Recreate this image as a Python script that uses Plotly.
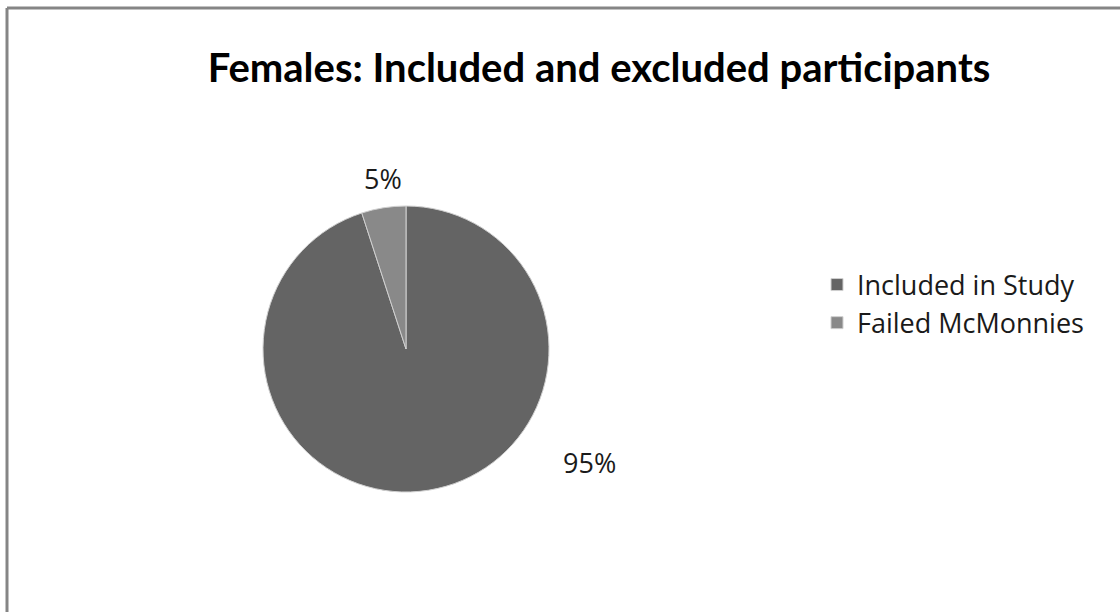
import plotly.graph_objects as go

# ---- data ----
categories = ["Included in Study", "Failed McMonnies"]
values = [95, 5]
title_text = "Females: Included and excluded participants"

# ---- style ----
colors = ["#646464", "#898989"]
W, H = 1120, 612
cx, cy, r = 406, 349, 143  # pie centre / radius in pixels (from top-left)
# label anchor positions (pixels from top-left), per category
label_px = {"Included in Study": (589, 462), "Failed McMonnies": (383, 178)}

total = sum(values)
pct_text = [f"{v / total * 100:.0f}%" for v in values]

fig = go.Figure()
fig.add_trace(go.Pie(
    labels=categories,
    values=values,
    sort=False,
    direction="clockwise",
    rotation=0,
    textinfo="none",
    hoverinfo="label+percent",
    marker=dict(colors=colors, line=dict(color="#d0d0d0", width=1)),
    domain=dict(x=[(cx - r) / W, (cx + r) / W],
                y=[(H - cy - r) / H, (H - cy + r) / H]),
    showlegend=True,
))

annotations = []
for cat, t in zip(categories, pct_text):
    px, py = label_px[cat]
    annotations.append(dict(
        x=px / W, y=1 - py / H, xref="paper", yref="paper",
        text=t, showarrow=False, xanchor="center", yanchor="middle",
        font=dict(family="Open Sans", size=27, color="#1a1a1a"),
    ))

fig.update_layout(
    width=W, height=H,
    margin=dict(l=0, r=0, t=0, b=0),
    paper_bgcolor="white",
    plot_bgcolor="white",
    title=dict(text=f"<b>{title_text}</b>", x=599 / W, xanchor="center",
               y=1 - 68 / H, yanchor="middle",
               font=dict(family="Lato", size=40, color="#000000")),
    legend=dict(x=817 / W, y=1 - 304 / H, xanchor="left", yanchor="middle",
                font=dict(family="Open Sans", size=27, color="#1a1a1a"),
                bgcolor="rgba(0,0,0,0)", itemwidth=30),
    annotations=annotations,
    shapes=[
        dict(type="line", xref="paper", yref="paper", x0=7 / W, x1=1, y0=1 - 8 / H, y1=1 - 8 / H,
             line=dict(color="#858585", width=3)),
        dict(type="line", xref="paper", yref="paper", x0=7 / W, x1=7 / W, y0=0, y1=1 - 8 / H,
             line=dict(color="#858585", width=3)),
    ],
)

fig.write_html("out.html",
               config={"displayModeBar": False},
               post_script="document.body.style.margin='0';document.body.style.overflow='hidden';")
